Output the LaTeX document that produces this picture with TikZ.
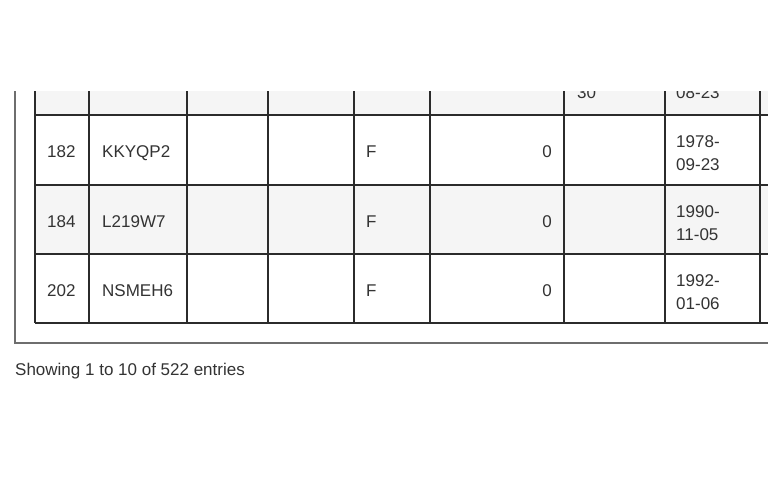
\documentclass[tikz,border=0pt]{standalone}
\usepackage{fontspec}
\setmainfont{Liberation Sans}
\usepackage{xcolor}
\definecolor{rowgrey}{HTML}{F5F5F5}
\definecolor{gridline}{HTML}{2B2B2B}
\definecolor{frameline}{HTML}{6E6E6E}
\definecolor{celltext}{HTML}{333333}

\begin{document}
\begin{tikzpicture}[x=1pt, y=-1pt,
        cell/.style={inner sep=0pt, anchor=base west, text=celltext, font=\fontsize{17}{23}\selectfont},
        num/.style={cell, anchor=base east},
        grid/.style={draw=gridline, line width=1.8pt},
        frame/.style={draw=frameline, line width=1.4pt}]
    \useasboundingbox[fill=white] (0,0) rectangle (768,480);
    % panel around the table
    \draw[frame] (15,91) -- (15,343) -- (768,343);
    \begin{scope}
        \clip (0,91) rectangle (768,480);
        % striped rows
        \fill[rowgrey] (35,80) rectangle (768,115);
        \fill[rowgrey] (35,185) rectangle (768,254);
        % row cut off at the top
        \node[cell] (agetop) at (577,98) {30};
        \node[cell] (dobtop) at (676,98) {08-23};
        % grid
        \foreach \y in {115,185,254,323}
            \draw[grid] (35,\y) -- (768,\y);
        \foreach \x in {35,89,187,268,354,430,564,665,760}
            \draw[grid] (\x,80) -- (\x,323);
    \end{scope}
    % rows
    \foreach \top/\id/\code/\yr/\md [count=\i] in {115/182/KKYQP2/1978/09-23,
            185/184/L219W7/1990/11-05, 254/202/NSMEH6/1992/01-06} {
        \node[cell] (id\i) at (47,{\top+42.5}) {\id};
        \node[cell] (code\i) at (102,{\top+42.5}) {\code};
        \node[cell] (sex\i) at (366,{\top+42.5}) {F};
        \node[num] (count\i) at (552,{\top+42.5}) {0};
        \node[cell] (year\i) at (676,{\top+32}) {\yr-};
        \node[cell] (day\i) at (676,{\top+55}) {\md};
    }
    \node[cell] (info) at (15,375) {Showing 1 to 10 of 522 entries};
\end{tikzpicture}
\end{document}
